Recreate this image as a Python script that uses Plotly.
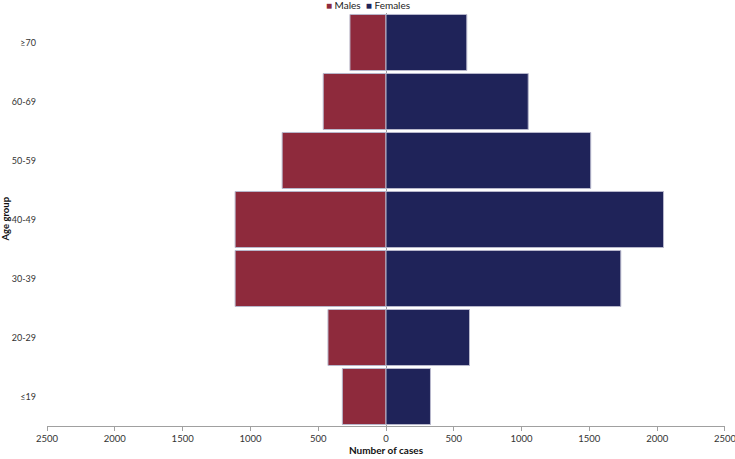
import plotly.graph_objects as go

age_groups = ["≤19", "20-29", "30-39", "40-49", "50-59", "60-69", "≥70"]
males = [322, 428, 1113, 1113, 766, 463, 266]
females = [328, 616, 1732, 2047, 1510, 1049, 596]
tick_vals = [-2500, -2000, -1500, -1000, -500, 0, 500, 1000, 1500, 2000, 2500]
tick_text = [str(abs(v)) for v in tick_vals]

male_color = "#8E2A3C"
female_color = "#1F2359"
outline = "#B8B8CC"
font_family = "Lato, 'Open Sans', sans-serif"

fig = go.Figure()
fig.add_trace(go.Bar(
    y=age_groups, x=[-v for v in males], orientation="h", name="Males",
    marker=dict(color=male_color, line=dict(color=outline, width=1)),
    showlegend=False,
))
fig.add_trace(go.Bar(
    y=age_groups, x=females, orientation="h", name="Females",
    marker=dict(color=female_color, line=dict(color=outline, width=1)),
    showlegend=False,
))

legend_text = (
    f"<span style='color:{male_color}'>■</span> Males  "
    f"<span style='color:{female_color}'>■</span> Females"
)
fig.add_annotation(
    text=legend_text, xref="paper", yref="paper",
    x=0.474, y=1.0, yshift=8, xanchor="center", yanchor="middle",
    showarrow=False, font=dict(size=10, color="#222222"),
)
fig.add_annotation(
    text="<b>Age group</b>", xref="paper", yref="paper",
    x=0, y=0.5, xshift=-42, xanchor="center", yanchor="middle",
    textangle=-90, showarrow=False, font=dict(size=9.5, color="#111111"),
)

fig.update_layout(
    width=735, height=459,
    margin=dict(l=47, r=10, t=13, b=33, autoexpand=False),
    barmode="relative",
    bargap=0.05,
    plot_bgcolor="white",
    paper_bgcolor="white",
    font=dict(family=font_family, size=9.5, color="#333333"),
    xaxis=dict(
        range=[-2500.5, 2500.5],
        tickvals=tick_vals, ticktext=tick_text,
        showgrid=False, automargin=False,
        ticklabeloverflow="allow",
        zeroline=True, zerolinecolor="#A0A0A0", zerolinewidth=1,
        showline=True, linecolor="#A0A0A0", linewidth=1,
        ticks="outside", ticklen=4, tickcolor="#A0A0A0",
        tickfont=dict(size=9.5, color="#333333"),
        title=dict(text="<b>Number of cases</b>", font=dict(size=10, color="#111111"), standoff=3),
    ),
    yaxis=dict(
        showgrid=False, showline=False, zeroline=False, automargin=False,
        ticks="", ticklabelstandoff=10,
        tickfont=dict(size=9, color="#333333"),
    ),
)

fig.write_html("out.html")
